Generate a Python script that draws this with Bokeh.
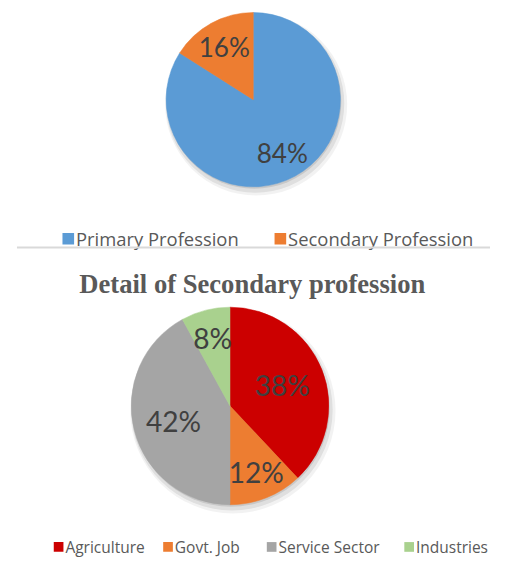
import math
from bokeh.plotting import figure
from bokeh.models import Range1d, ColumnDataSource
from bokeh.core.properties import value
from bokeh.embed import file_html
from bokeh.resources import INLINE

# ---- data ----
top_categories = ["Primary Profession", "Secondary Profession"]
top_values = [84, 16]
bottom_title = "Detail of Secondary profession"
bottom_categories = ["Agriculture", "Govt. Job", "Service Sector", "Industries"]
bottom_values = [38, 12, 42, 8]

# ---- styles / layout ----
top_colors = ["#5B9BD5", "#ED7D31"]
bottom_colors = ["#CC0000", "#ED7D31", "#A5A5A5", "#A9D18E"]
top_label_r = [0.69, 0.69]
bottom_label_r = [0.57, 0.72, 0.59, 0.71]
LABEL_COLOR = "#404040"
LABEL_FONT = "Lato"
LEGEND_FONT = "Open Sans"

# the layout is described in a 506 x 578 design space, drawn on a 490 x 562 figure
DW, DH = 506, 578
W, H = 490, 562
S = W / DW  # font scale

p = figure(width=W, height=H, output_backend="svg", toolbar_location=None,
           x_range=Range1d(0, DW), y_range=Range1d(0, DH),
           min_border=0, outline_line_color=None)
p.axis.visible = False
p.grid.visible = False
p.background_fill_color = "white"
p.border_fill_color = "white"


def sy(y):
    # design row (from top) -> data y
    return DH - y


def px(size):
    return f"{size * S:.1f}px"


def pie(cx, cy, r, vals, colors, label_r, fsize):
    total = float(sum(vals))
    # soft shadow
    for dr, dx, dy, a in [(4, 3, 5, 0.05), (2, 2, 4, 0.08), (0, 1, 2, 0.10)]:
        p.circle(x=[cx + dx], y=[sy(cy + dy)], radius=r + dr,
                 fill_color="#000000", fill_alpha=a, line_color=None)
    starts, ends, lx, ly, txt = [], [], [], [], []
    cum = 0.0
    for v, lr in zip(vals, label_r):
        a0 = math.pi / 2 - 2 * math.pi * cum / total
        a1 = math.pi / 2 - 2 * math.pi * (cum + v) / total
        starts.append(a0)
        ends.append(a1)
        mid = (a0 + a1) / 2
        lx.append(cx + lr * r * math.cos(mid))
        ly.append(sy(cy) + lr * r * math.sin(mid))
        txt.append(f"{v / total * 100:.0f}%")
        cum += v
    src = ColumnDataSource(dict(s=starts, e=ends, c=colors))
    p.wedge(x=cx, y=sy(cy), radius=r, start_angle="s", end_angle="e",
            direction="clock", fill_color="c", line_color="c", line_width=0.5,
            source=src)
    p.text(x=lx, y=ly, text=txt, text_font=value(LABEL_FONT), text_font_size=px(fsize),
           text_color=LABEL_COLOR, text_align="center", text_baseline="middle")


def legend(items, colors, xs, y, sq, fsize):
    for name, col, x in zip(items, colors, xs):
        p.rect(x=[x + sq / 2], y=[sy(y)], width=sq, height=sq,
               fill_color=col, line_color=None)
        p.text(x=[x + sq + 2], y=[sy(y)], text=[name], text_font=value(LEGEND_FONT),
               text_font_size=px(fsize), text_color="#595959",
               text_align="left", text_baseline="middle")


# top pie
pie(261, 102, 90, top_values, top_colors, top_label_r, 27)
legend(top_categories, top_colors, [64, 283], 245, 12, 19)

# divider
p.segment(x0=[17], y0=[sy(254)], x1=[506], y1=[sy(254)], line_color="#D9D9D9", line_width=2)

# title
p.text(x=[260], y=[sy(292)], text=[bottom_title], text_font=value("Liberation Serif"),
       text_font_style="bold", text_font_size=px(27.5), text_color="#595959",
       text_align="center", text_baseline="middle")

# bottom pie
pie(237, 417, 102, bottom_values, bottom_colors, bottom_label_r, 29)
legend(bottom_categories, bottom_colors, [55, 168, 275, 417], 562, 10, 16)

open("out.html", "w").write(file_html(p, INLINE))
